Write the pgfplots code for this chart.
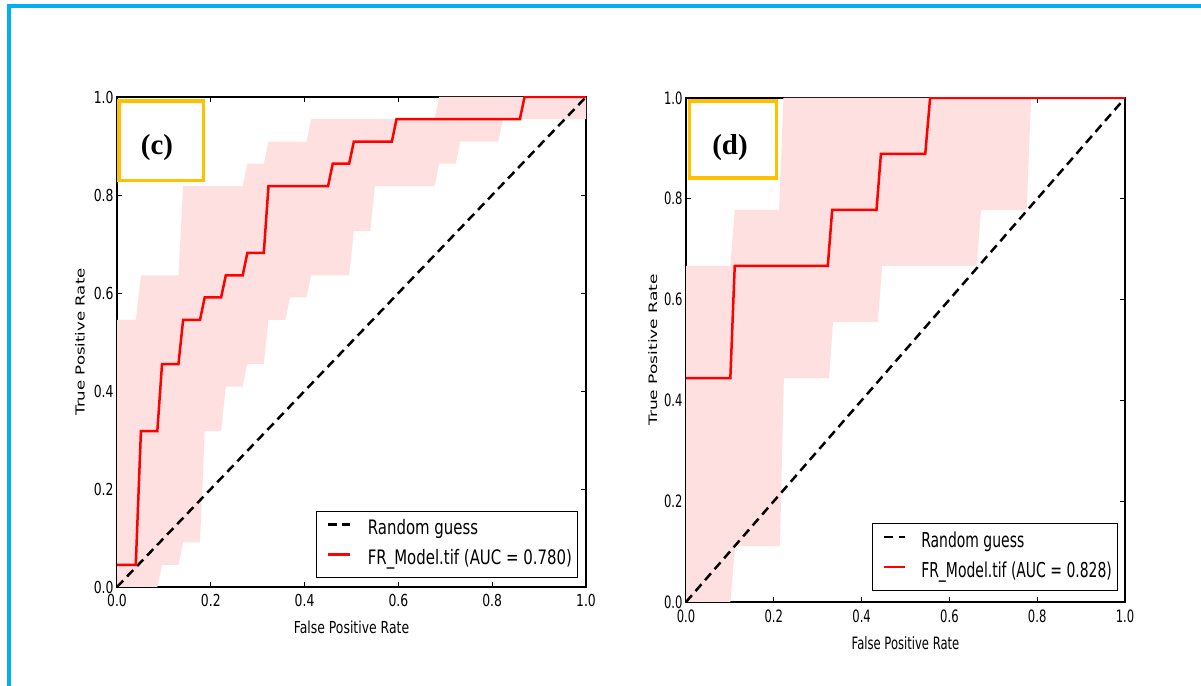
\documentclass[border=0pt]{standalone}
\usepackage{fontspec}
\setmainfont{DejaVu Sans}
\newfontfamily\labfont{Liberation Serif}
\usepackage{graphicx}
\usepackage{pgfplots}
\pgfplotsset{compat=1.18}
\definecolor{bandpink}{RGB}{255,224,224}
\definecolor{framecyan}{RGB}{0,176,240}
\definecolor{boxgold}{RGB}{255,192,0}
\def\hsx{0.75}
\def\tfs{16.6}
\def\lfs{20}
\newcommand{\hs}[1]{\scalebox{\hsx}[1]{#1}}
\pgfplotsset{
  /pgf/number format/assume math mode=true,
  rocaxis/.style={
    scale only axis, anchor=south west,
    xmin=0, xmax=1, ymin=0, ymax=1,
    xtick={0,0.2,0.4,0.6,0.8,1}, ytick={0,0.2,0.4,0.6,0.8,1},
    tick align=inside,
    major tick length=5bp,
    every tick/.style={black, line width=0.8bp},
    axis line style={line width=1.2bp, black},
    xticklabel={\hs{\pgfmathprintnumber[fixed,fixed zerofill,precision=1]{\tick}}},
    yticklabel={\hs{\pgfmathprintnumber[fixed,fixed zerofill,precision=1]{\tick}}},
    every tick label/.append style={font=\fontsize{\tfs}{19}\selectfont},
    xticklabel style={yshift=-4bp},
    label style={font=\fontsize{\tfs}{19}\selectfont},
    xlabel={\hs{False Positive Rate}},
    ylabel={\scalebox{1}[\hsx]{True Positive Rate}},
    xlabel style={yshift=-7bp},
    legend style={font=\fontsize{\lfs}{22}\selectfont, draw=black, line width=1bp,
      cells={anchor=west}, inner ysep=9.3bp, inner xsep=6bp, row sep=12bp,
      nodes={inner sep=0bp, text height=14bp, text depth=4bp}},
    legend cell align=left,
  }
}
\begin{document}
\begin{tikzpicture}
\path[use as bounding box] (0,0) rectangle (1201bp,686bp);
\draw[framecyan, line width=4bp] (8.7bp,0bp) -- (8.7bp,679.7bp) -- (1201bp,679.7bp);

\begin{axis}[rocaxis, at={(117bp,99bp)}, width=469bp, height=490bp,
  ylabel style={yshift=2bp},
  legend style={at={(0.984,0.018)}, anchor=south east, column sep=16.7bp},
  legend image code/.code={\path (0bp,5bp); \draw[#1] (4bp,5bp) -- (26bp,5bp);}]
\addplot[fill=bandpink, draw=none, forget plot] coordinates {
(0,0.545) (0.040,0.545) (0.051,0.636) (0.131,0.636) (0.141,0.818) (0.268,0.818)
(0.278,0.864) (0.313,0.864) (0.323,0.909) (0.404,0.909) (0.414,0.955) (0.677,0.955)
(0.687,1) (1,1)
(1,0.955) (0.823,0.955) (0.813,0.909) (0.732,0.909) (0.722,0.864) (0.687,0.864)
(0.677,0.818) (0.550,0.818) (0.540,0.727) (0.505,0.727) (0.495,0.636) (0.414,0.636)
(0.404,0.591) (0.369,0.591) (0.359,0.545) (0.323,0.545) (0.313,0.455) (0.278,0.455)
(0.268,0.409) (0.232,0.409) (0.222,0.318) (0.187,0.318) (0.177,0.091) (0.141,0.091)
(0.131,0.045) (0.096,0.045) (0.086,0) (0,0)
} -- cycle;
\addplot[black, line width=2.5bp, dash pattern=on 9bp off 5.5bp] coordinates {(0,0) (1,1)};
\addlegendentry{\hs{Random guess}}
\addplot[red, line width=2.5bp] coordinates {
(0,0.045) (0.040,0.045) (0.051,0.318) (0.086,0.318) (0.096,0.455) (0.131,0.455)
(0.141,0.545) (0.177,0.545) (0.187,0.591) (0.222,0.591) (0.232,0.636) (0.268,0.636)
(0.278,0.682) (0.313,0.682) (0.323,0.818) (0.450,0.818) (0.460,0.864) (0.495,0.864)
(0.505,0.909) (0.586,0.909) (0.596,0.955) (0.859,0.955) (0.869,1) (1,1)
};
\addlegendentry{\hs{FR\_Model.tif (AUC = 0.780)}}
\end{axis}

\def\hsx{0.68}
\def\tfs{17.1}
\def\lfs{20.6}
\begin{axis}[rocaxis, at={(686bp,84bp)}, width=439bp, height=504bp,
  legend style={at={(0.985,0.022)}, anchor=south east, column sep=15bp},
  legend image code/.code={\path (0bp,5bp); \draw[#1] (4bp,5bp) -- (25bp,5bp);}]
\addplot[fill=bandpink, draw=none, forget plot] coordinates {
(0,0.667) (0.101,0.667) (0.111,0.778) (0.212,0.778) (0.222,1) (1,1)
(1,1) (0.786,1) (0.776,0.778) (0.672,0.778) (0.662,0.667) (0.447,0.667)
(0.437,0.556) (0.335,0.556) (0.326,0.444) (0.223,0.444) (0.214,0.111)
(0.112,0.111) (0.101,0) (0,0)
} -- cycle;
\addplot[black, line width=2.5bp, dash pattern=on 9bp off 5.5bp] coordinates {(0,0) (1,1)};
\addlegendentry{\hs{Random guess}}
\addplot[red, line width=2.5bp] coordinates {
(0,0.444) (0.101,0.444) (0.111,0.667) (0.323,0.667) (0.333,0.778)
(0.434,0.778) (0.444,0.889) (0.545,0.889) (0.556,1) (1,1)
};
\addlegendentry{\hs{FR\_Model.tif (AUC = 0.828)}}
\end{axis}

\draw[boxgold, line width=3.5bp] (119bp,585bp) rectangle (203.3bp,505.7bp);
\node at (157bp,538bp) {\fontsize{29}{32}\selectfont\labfont\bfseries (c)};
\draw[boxgold, line width=3.5bp] (689.3bp,585bp) rectangle (776.7bp,508bp);
\node at (730bp,538bp) {\fontsize{29}{32}\selectfont\labfont\bfseries (d)};
\end{tikzpicture}
\end{document}
